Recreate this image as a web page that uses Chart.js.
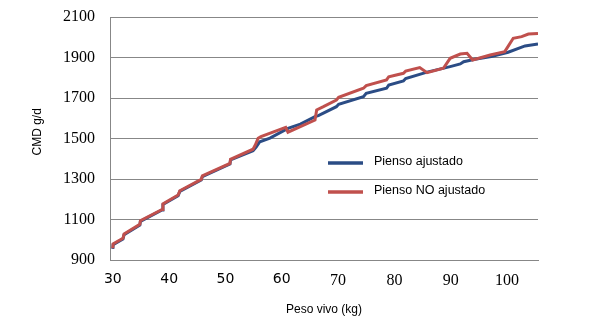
<!DOCTYPE html>
<html>
<head>
<meta charset="utf-8">
<script src="https://cdn.jsdelivr.net/npm/chart.js@4"></script>
<style>
  body { margin: 0; background: #fff; }
</style>
</head>
<body>
<canvas id="cmdChart" width="610" height="326"></canvas>
<script>
// CMD (g/d) vs peso vivo (kg)
var pesoAjustado = [30, 30.05, 31.8, 32.0, 34.8, 34.9, 38.75, 38.9, 41.6, 41.9, 45.7, 45.9, 50.8, 50.9, 54.9, 55.45, 56.1, 57.9, 61.1, 63.3, 65.9, 66.5, 69.7, 70.1, 74.5, 75.0, 78.6, 79.0, 81.6, 82.0, 85.8, 89.9, 91.7, 92.3, 94.3, 97.2, 100.2, 103.2, 105.5];
var cmdAjustado = [955, 976, 1004, 1025, 1073, 1091, 1147, 1174, 1218, 1239, 1295, 1312, 1374, 1394, 1440, 1458, 1484, 1502, 1550, 1571, 1608, 1613, 1657, 1669, 1706, 1723, 1748, 1764, 1784, 1796, 1828, 1855, 1868, 1879, 1891, 1905, 1926, 1957, 1967];

var pesoNoAjustado = [30, 30.05, 31.8, 32.0, 34.8, 34.9, 38.75, 38.9, 41.6, 41.9, 45.7, 45.9, 50.8, 50.9, 54.9, 55.3, 55.8, 56.3, 60.7, 61.1, 65.9, 66.2, 67.4, 69.7, 70.1, 74.5, 75.0, 78.6, 79.0, 81.6, 82.0, 84.5, 85.8, 88.7, 89.9, 91.7, 92.9, 93.9, 97.0, 99.6, 101.1, 102.6, 103.8, 105.5];
var cmdNoAjustado = [958, 979, 1007, 1028, 1076, 1094, 1150, 1177, 1221, 1242, 1298, 1315, 1377, 1397, 1447, 1468, 1501, 1509, 1555, 1531, 1591, 1641, 1657, 1690, 1703, 1748, 1761, 1789, 1805, 1822, 1833, 1850, 1825, 1847, 1896, 1917, 1921, 1888, 1912, 1929, 1995, 2003, 2016, 2019];

var xTicks = [30, 40, 50, 60, 70, 80, 90, 100];
var yTicks = [900, 1100, 1300, 1500, 1700, 1900, 2100];

var seriesNames = ['Pienso ajustado', 'Pienso NO ajustado'];
var azul = '#2b4c85';
var rojo = '#c0504d';
var gris = '#878787';
var serif = 'Liberation Serif';
var sans = 'Liberation Sans';

function toPoints(xs, ys) {
    return xs.map(function(x, i) { return { x: x, y: ys[i] }; });
}

// legend drawn inside the plot, like the original
var insideLegend = {
    id: 'insideLegend',
    afterDraw: function(chart) {
        var ctx = chart.ctx;
        var items = [
            { label: seriesNames[0], color: azul, y: 163 },
            { label: seriesNames[1], color: rojo, y: 192 }
        ];
        ctx.save();
        ctx.font = '12.5px ' + sans;
        ctx.textBaseline = 'middle';
        items.forEach(function(it) {
            ctx.strokeStyle = it.color;
            ctx.lineWidth = 3.5;
            ctx.beginPath();
            ctx.moveTo(328, it.y);
            ctx.lineTo(363, it.y);
            ctx.stroke();
            ctx.fillStyle = '#000';
            ctx.fillText(it.label, 374, it.y - 1);
        });
        ctx.restore();
    }
};

var ctx = document.getElementById('cmdChart').getContext('2d');
new Chart(ctx, {
    type: 'line',
    data: {
        datasets: [{
            label: seriesNames[0],
            data: toPoints(pesoAjustado, cmdAjustado),
            borderColor: azul,
            borderWidth: 3,
            pointRadius: 0,
            tension: 0,
            order: 2
        }, {
            label: seriesNames[1],
            data: toPoints(pesoNoAjustado, cmdNoAjustado),
            borderColor: rojo,
            borderWidth: 3,
            pointRadius: 0,
            tension: 0,
            order: 1
        }]
    },
    options: {
        responsive: false,
        animation: false,
        layout: { padding: { left: 0, right: 72, top: 17, bottom: 0 } },
        plugins: {
            legend: { display: false },
            tooltip: { enabled: false }
        },
        scales: {
            x: {
                type: 'linear',
                min: 29.5,
                max: 105.5,
                afterBuildTicks: function(scale) {
                    scale.ticks = xTicks.map(function(v) { return { value: v }; });
                },
                afterFit: function(scale) {
                    scale.height = 66;
                    scale.paddingLeft = 0;
                    scale.paddingRight = 0;
                },
                grid: { drawOnChartArea: false, drawTicks: false },
                border: { display: true, color: gris, width: 1 },
                ticks: {
                    padding: 11,
                    color: '#000',
                    maxRotation: 0,
                    callback: function(v) { return String(v); },
                    font: function(c) {
                        if (c.tick && c.tick.value < 70) {
                            return { family: 'DejaVu Sans', size: 14 };
                        }
                        return { family: serif, size: 16 };
                    }
                },
                title: {
                    display: true,
                    text: 'Peso vivo (kg)',
                    color: '#000',
                    font: { family: sans, size: 12 },
                    padding: { top: 0, bottom: 9 }
                }
            },
            y: {
                min: 900,
                max: 2100,
                afterBuildTicks: function(scale) {
                    scale.ticks = yTicks.map(function(v) { return { value: v }; });
                },
                afterFit: function(scale) {
                    scale.width = 110;
                    scale.paddingTop = 0;
                    scale.paddingBottom = 0;
                },
                grid: { color: gris, lineWidth: 1, drawTicks: false },
                border: { display: true, color: gris, width: 1 },
                ticks: {
                    padding: 15,
                    color: '#000',
                    callback: function(v) { return String(v); },
                    font: { family: serif, size: 16 }
                },
                title: {
                    display: true,
                    text: '    CMD g/d',
                    color: '#000',
                    font: { family: sans, size: 12 },
                    padding: { top: 30, bottom: 0 }
                }
            }
        }
    },
    plugins: [insideLegend]
});
</script>
</body>
</html>
